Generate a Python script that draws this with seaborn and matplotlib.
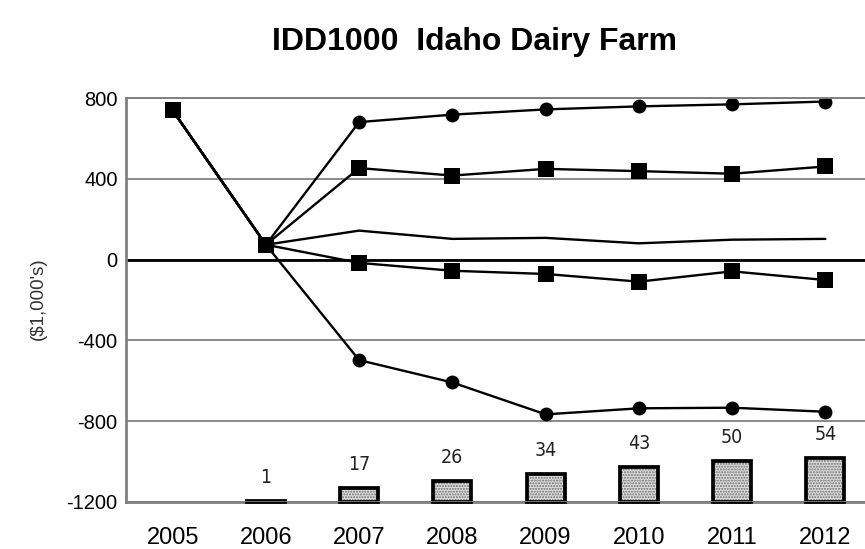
import numpy as np
import pandas as pd
import matplotlib
matplotlib.use("Agg")
import matplotlib.pyplot as plt
import seaborn as sns

# ---- data -------------------------------------------------------------
years = [2005, 2006, 2007, 2008, 2009, 2010, 2011, 2012]

# simulated net worth percentiles ($1,000's)
p95 = [740, 74, 682, 719, 745, 760, 770, 784]
p75 = [740, 74, 454, 417, 450, 439, 426, 462]
mean = [740, 74, 144, 103, 108, 81, 99, 103]
p25 = [740, 74, -16, -55, -71, -109, -58, -101]
p5 = [740, 74, -498, -609, -767, -737, -734, -754]

# probability of decreasing real net worth (%)
prob_decline = [np.nan, 1, 17, 26, 34, 43, 50, 54]

title = "IDD1000  Idaho Dairy Farm"
ylabel = "($1,000's)"
yticks = [-1200, -800, -400, 0, 400, 800]

# ---- style ------------------------------------------------------------
sns.set_theme(style="white")
plt.rcParams["font.family"] = ["Liberation Sans", "DejaVu Sans"]
plt.rcParams["axes.unicode_minus"] = False

fig = plt.figure(figsize=(8.65, 5.49), dpi=100)
ax = fig.add_axes([126 / 865, 1 - 501.7 / 549, 746 / 865, (501.7 - 98.3) / 549])
ax2 = ax.twinx()
ax.set_zorder(ax2.get_zorder() + 1)
ax.patch.set_visible(False)

# ---- bars: probability of decline on a hidden secondary scale ---------
bars = pd.DataFrame({"year": years, "pct": prob_decline})
sns.barplot(data=bars, x="year", y="pct", native_scale=True, width=0.41,
            color="#dedede", saturation=1, ax=ax2, errorbar=None)
for p in ax2.patches:
    p.set_hatch("......")
    p.set_edgecolor("#6e6e6e")
    p.set_linewidth(0)
n_fill = len(ax2.patches)
sns.barplot(data=bars, x="year", y="pct", native_scale=True, width=0.41,
            fill=False, edgecolor="black", linewidth=2.7, ax=ax2,
            errorbar=None)
for p in ax2.patches[n_fill:]:
    p.set_clip_on(False)
    p.set_zorder(3)
for yr, v in zip(years, prob_decline):
    if np.isnan(v):
        continue
    ax2.annotate(f"{v:g}", (yr, v), xytext=(0, 17), textcoords="offset points",
                 ha="center", va="center", fontsize=14, color="#222222",
                 family="DejaVu Sans", fontstretch="condensed")
ax2.set_ylim(0, 500)
ax2.set_yticks([])
ax2.set_ylabel("")
for side, s in ax2.spines.items():
    s.set_visible(side == "bottom")
ax2.spines["bottom"].set_color("#808080")
ax2.spines["bottom"].set_linewidth(2)
ax2.spines["bottom"].set_zorder(2)

# ---- lines ------------------------------------------------------------
line_kw = dict(color="black", linewidth=1.7, ax=ax)
sns.lineplot(x=years, y=p95, marker="o", markersize=10, markeredgewidth=0, **line_kw)
sns.lineplot(x=years, y=p5, marker="o", markersize=10, markeredgewidth=0, **line_kw)
sns.lineplot(x=years, y=mean, **line_kw)
sns.lineplot(x=years, y=p75, marker="s", markersize=11, markeredgewidth=0, **line_kw)
sns.lineplot(x=years, y=p25, marker="s", markersize=11, markeredgewidth=0, **line_kw)

# ---- axes -------------------------------------------------------------
ax.set_xlim(2004.5, 2012.5)
ax.set_ylim(-1200, 800)
ax.set_yticks(yticks)
ax.set_xticks(years)
ax.set_xticklabels([str(y) for y in years])
ax.tick_params(axis="both", length=0, colors="black")
ax.tick_params(axis="y", pad=6, labelsize=14.5)
ax.tick_params(axis="x", pad=18, labelsize=17)
ax.yaxis.grid(True, color="#808080", linewidth=1.3)
ax.xaxis.grid(False)
ax.axhline(0, color="black", linewidth=2, zorder=1.5)

for side in ["left", "top"]:
    ax.spines[side].set_visible(True)
    ax.spines[side].set_color("#808080")
    ax.spines[side].set_linewidth(2)
ax.spines["top"].set_linewidth(1.4)
ax.spines["right"].set_visible(False)
ax.spines["bottom"].set_visible(False)

ax.set_xlabel("")
ax.set_ylabel("")
fig.text(38 / 865, 1 - 299 / 549, ylabel, rotation=90, ha="center",
         va="center", fontsize=13.5, color="#333333")

fig.text(475 / 865, 1 - 42 / 549, title, ha="center", va="center",
         fontsize=23, fontweight="bold", color="black")

fig.savefig("out.png", dpi=100)
